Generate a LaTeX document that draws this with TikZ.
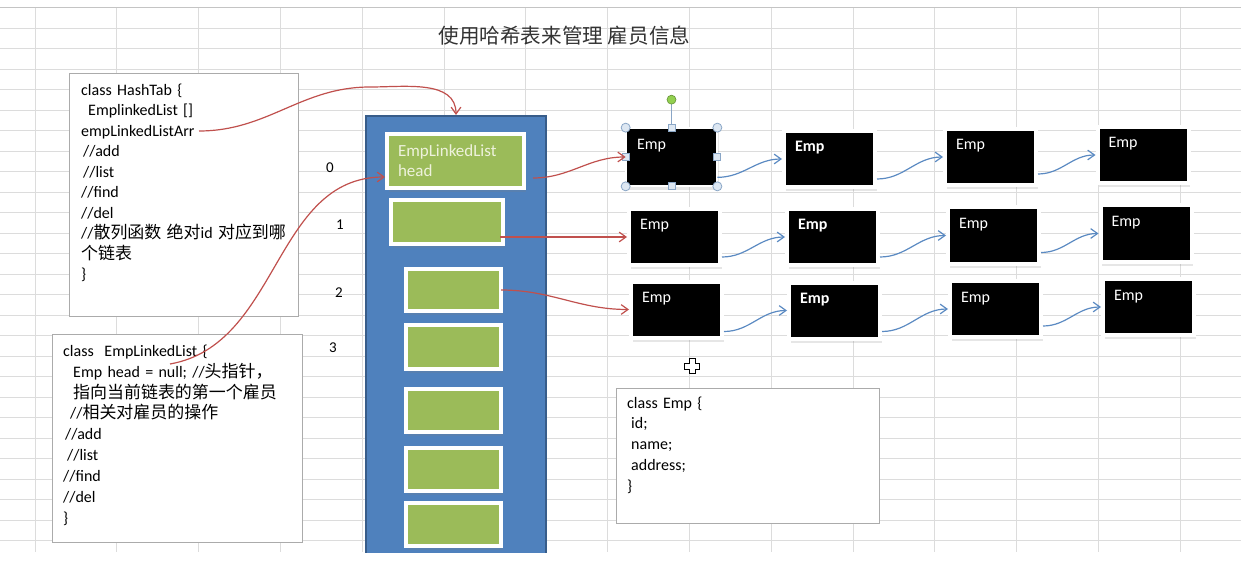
\documentclass[tikz,border=0pt]{standalone}
\usepackage{fontspec}
\setmainfont{Carlito}
\newfontfamily\cjkfont[Scale=1.06]{Noto Sans CJK SC}
\newfontfamily\titlefont{Noto Sans CJK SC}
\usetikzlibrary{arrows.meta,positioning,calc,shadows}
\definecolor{HTGrid}{HTML}{DCDCDC}
\definecolor{HTTop}{HTML}{C4C4C4}
\definecolor{HTBorder}{HTML}{ABABAB}
\definecolor{HTBlue}{HTML}{4F81BD}
\definecolor{HTBlueDark}{HTML}{385D8A}
\definecolor{HTGreen}{HTML}{9BBB59}
\definecolor{HTCream}{HTML}{EEF2DC}
\definecolor{HTRed}{HTML}{C0504D}
\definecolor{HTLink}{HTML}{5B8AC2}
\definecolor{HTHandle}{HTML}{8AA6C6}
\definecolor{HTHandleFill}{HTML}{DDE7F2}
\definecolor{HTRotate}{HTML}{92D050}
\newcommand{\zh}[1]{{\cjkfont #1}}
\tikzset{
  >={Straight Barb[length=2.4mm,width=3.4mm]},
  htgrid/.style={draw=HTGrid, line width=0.8pt},
  htcode/.style={draw=HTBorder, fill=white, anchor=north west, align=left,
    inner xsep=11pt, inner ysep=8pt, text height=14pt,
    font=\fontsize{16}{20.5}\selectfont},
  httable/.style={draw=HTBlueDark, line width=2pt, fill=HTBlue, anchor=north},
  htbucket/.style={draw=white, line width=4pt, fill=HTGreen, inner sep=0pt,
    drop shadow={shadow xshift=1.5pt, shadow yshift=-4pt, opacity=.2}},
  htemp/.style={draw=white, line width=4pt, fill=black, text=white,
    inner xsep=11pt, inner ysep=4pt, text width=69pt, align=left,
    text height=17pt, text depth=31pt, font=\fontsize{16}{18}\selectfont,
    drop shadow={shadow xshift=1.5pt, shadow yshift=-4pt, opacity=.2}},
  htsel/.style={htemp, draw=HTHandle, double=white, double distance=1.4pt,
    line width=0.7pt, text height=18pt, text depth=32pt, drop shadow={opacity=0}},
  hthandle/.style={draw=HTHandle, fill=HTHandleFill, line width=0.8pt},
  htidx/.style={font=\fontsize{15}{18}\selectfont},
  htred/.style={->, line width=1.2pt, draw=HTRed},
  htlink/.style={->, line width=1.2pt, draw=HTLink}
}
\begin{document}
\begin{tikzpicture}[x=1pt, y=1pt]
  \useasboundingbox (0,0) rectangle (1241,-569);

  % sheet grid
  \foreach \r in {1,...,26}
    \draw[htgrid] (0,{-7.5-20.5*\r}) -- (1241,{-7.5-20.5*\r});
  \foreach \c in {0,...,14}
    \draw[htgrid] ({35+81.8*\c},-7.5) -- ({35+81.8*\c},-552);
  \draw[HTTop, line width=1pt] (0,-7.5) -- (1241,-7.5);

  \node[font=\fontsize{20.6}{24}\selectfont\titlefont, text=black!80] (title)
    at (564.5,-36) {使用哈希表来管理 雇员信息};

  \node[htcode, minimum width=229pt, minimum height=243pt, text width=205pt,
    text depth=213pt] (hashtab) at (69,-73)
    {class HashTab \{\\
     \hspace*{7pt}EmplinkedList []\\
     empLinkedListArr\\
     \hspace*{2pt}//add\\
     \hspace*{2pt}//list\\
     //find\\
     //del\\
     //\zh{散列函数} \zh{绝对}id \zh{对应到哪}\\
     \zh{个链表}\\
     \}};
  \node[htcode, minimum width=250pt, minimum height=208pt, text width=228pt,
    text depth=178pt, font=\fontsize{16}{20.9}\selectfont] (listcls) at (52,-334)
    {class\ \ EmpLinkedList \{\\
     \hspace*{10pt}Emp head = null; //\zh{头指针，}\\
     \hspace*{10pt}\zh{指向当前链表的第一个雇员}\\
     \hspace*{7pt}//\zh{相关对雇员的操作}\\
     \hspace*{2pt}//add\\
     \hspace*{4pt}//list\\
     //find\\
     //del\\
     \}};
  \node[htcode, minimum width=263pt, minimum height=135pt, text width=241pt,
    inner ysep=6pt, text depth=109pt, font=\fontsize{16}{20.7}\selectfont]
    (empcls) at (616,-388)
    {class Emp \{\\
     \hspace*{4pt}id;\\
     \hspace*{4pt}name;\\
     \hspace*{4pt}address;\\
     \}};

  \node[htidx] (idx0) at (330,-168) {0};
  \node[htidx] (idx1) at (340,-225) {1};
  \node[htidx] (idx2) at (339,-293) {2};
  \node[htidx] (idx3) at (333,-348) {3};

  \begin{scope}
    \clip (0,0) rectangle (1241,-552);
    \node[httable, minimum width=180pt, minimum height=460pt] (table)
      at (456,-115) {};
  \end{scope}

  \node[htbucket, minimum width=137pt, minimum height=54pt, text=HTCream,
    align=left, text width=115pt, font=\fontsize{17}{20}\selectfont] (b0)
    at (455.5,-161) {EmpLinkedList\\head};
  \node[htbucket, minimum width=112pt, minimum height=44pt] (b1) at (447,-222) {};
  \node[htbucket, minimum width=95pt, minimum height=42pt] (b2) at (453.5,-290) {};
  \node[htbucket, minimum width=95pt, minimum height=44pt, below=10pt of b2] (b3) {};
  \node[htbucket, minimum width=95pt, minimum height=43pt, below=16pt of b3] (b4) {};
  \node[htbucket, minimum width=95pt, minimum height=43pt, below=12pt of b4] (b5) {};
  \node[htbucket, minimum width=95pt, minimum height=43pt, below=8pt of b5] (b6) {};

  \node[htsel] (e00) at (671.5,-157) {Emp};
  \node[htemp] (e01) at (829.5,-159) {\bfseries Emp};
  \node[htemp] (e02) at (990.5,-157) {Emp};
  \node[htemp] (e03) at (1143,-155) {Emp};
  \node[htemp] (e10) at (674.5,-237) {Emp};
  \node[htemp] (e11) at (832.5,-237) {\bfseries Emp};
  \node[htemp] (e12) at (993.5,-235.5) {Emp};
  \node[htemp] (e13) at (1146,-233.5) {Emp};
  \node[htemp] (e20) at (676.5,-309.5) {Emp};
  \node[htemp] (e21) at (834.5,-310.5) {\bfseries Emp};
  \node[htemp] (e22) at (995.5,-309) {Emp};
  \node[htemp] (e23) at (1148.5,-307) {Emp};

  % selection handles on the first Emp
  \draw[HTHandle, line width=0.8pt] (e00.north) -- ++(0,24);
  \draw[draw=HTRotate!70!black, fill=HTRotate, line width=0.6pt]
    ($(e00.north)+(0,28)$) circle (4.5pt);
  \draw[hthandle] (e00.north west) circle (4.5pt);
  \draw[hthandle] (e00.north east) circle (4.5pt);
  \draw[hthandle] (e00.south west) circle (4.5pt);
  \draw[hthandle] (e00.south east) circle (4.5pt);
  \draw[hthandle] ($(e00.north)+(-3.5,-3.5)$) rectangle ++(7,7);
  \draw[hthandle] ($(e00.south)+(-3.5,-3.5)$) rectangle ++(7,7);
  \draw[hthandle] ($(e00.west)+(-3.5,-3.5)$) rectangle ++(7,7);
  \draw[hthandle] ($(e00.east)+(-3.5,-3.5)$) rectangle ++(7,7);

  % move cursor
  \draw[fill=white, line width=0.9pt, shift={(692,-366)}]
    (-3,7.5) -- (3,7.5) -- (3,3) -- (7.5,3) -- (7.5,-3) -- (3,-3) -- (3,-7.5)
    -- (-3,-7.5) -- (-3,-3) -- (-7.5,-3) -- (-7.5,3) -- (-3,3) -- cycle;

  \coordinate (arrptr) at (199,-131);
  \coordinate (arrtop) at (370,-87);
  \coordinate (headptr) at (170,-364);

  \draw[htred] (arrptr) to[out=0,in=180] (arrtop) to[out=0,in=90] (table.north);
  \draw[htred] (headptr) to[out=10,in=180] ([yshift=-16pt]b0.west);
  \draw[htred] ([xshift=7pt,yshift=-17pt]b0.east) to[out=0,in=180] (e00.west);
  \draw[htred] ([xshift=-5pt,yshift=-15pt]b1.east) to[out=0,in=180] (e10.west);
  \draw[htred] ([xshift=-2pt]b2.east) to[out=0,in=180] (e20.west);

  \draw[htlink] ([yshift=9pt]e00.south east) to[out=0,in=180] (e01.west);
  \draw[htlink] ([yshift=10pt]e01.south east) to[out=0,in=180] (e02.west);
  \draw[htlink] ([yshift=13pt]e02.south east) to[out=0,in=180] (e03.west);
  \draw[htlink] ([yshift=10pt]e10.south east) to[out=0,in=180] (e11.west);
  \draw[htlink] ([yshift=10pt]e11.south east) to[out=0,in=180] (e12.west);
  \draw[htlink] ([yshift=13pt]e12.south east) to[out=0,in=180] (e13.west);
  \draw[htlink] ([yshift=8pt]e20.south east) to[out=0,in=180] (e21.west);
  \draw[htlink] ([yshift=9pt]e21.south east) to[out=0,in=180] (e22.west);
  \draw[htlink] ([yshift=13pt]e22.south east) to[out=0,in=180] (e23.west);
\end{tikzpicture}
\end{document}
